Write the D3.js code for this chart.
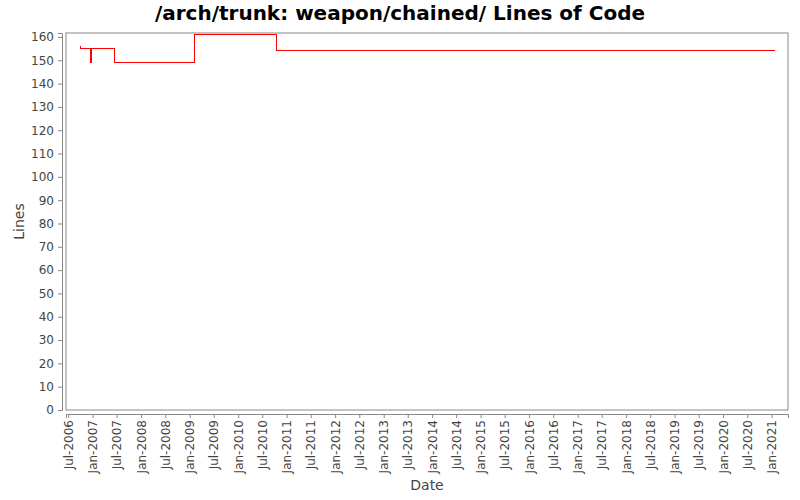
<!DOCTYPE html>
<html>
<head>
<meta charset="utf-8">
<script src="https://d3js.org/d3.v7.min.js"></script>
<style>
  body { margin: 0; background: #fff; }
  text { font-family: "DejaVu Sans", sans-serif; }
</style>
</head>
<body>
<div id="chart"></div>
<script>
// commit dates and line counts (step series)
const dates = ["2006-09-29", "2006-10-03", "2006-12-16", "2006-12-23", "2007-06-12", "2009-02-04", "2010-10-15", "2021-01-24"];
const lines = [156, 155, 149, 155, 149, 161, 154, 154];
const yTicks = d3.range(0, 161, 10);
const xTickLabels = [];
for (let yr = 2006; yr <= 2021; yr++) {
  if (yr > 2006) xTickLabels.push("Jan-" + yr);
  if (yr < 2021) xTickLabels.push("Jul-" + yr);
}

const parse = d3.timeParse("%Y-%m-%d");
const parseTick = d3.timeParse("%b-%Y");
const data = dates.map((d, i) => ({ date: parse(d), value: lines[i] }));

const width = 800, height = 500;
const plot = { left: 66, right: 788, top: 33, bottom: 410 };

const svg = d3.select("#chart").append("svg")
  .attr("width", width).attr("height", height);

const x = d3.scaleTime()
  .domain([parse("2006-06-14"), parse("2021-05-04")])
  .range([plot.left, plot.right]);

const y = d3.scaleLinear()
  .domain([0, 161.7])
  .range([plot.bottom, plot.top]);

// title
svg.append("text")
  .attr("x", width / 2).attr("y", 20)
  .attr("text-anchor", "middle")
  .style("font-size", "20px").style("font-weight", "bold")
  .text("/arch/trunk: weapon/chained/ Lines of Code");

// plot area border
svg.append("rect")
  .attr("x", plot.left).attr("y", plot.top)
  .attr("width", plot.right - plot.left).attr("height", plot.bottom - plot.top)
  .attr("fill", "#fff").attr("stroke", "#888").attr("stroke-width", 1);

// y axis
const yAxis = svg.append("g")
  .attr("transform", `translate(${plot.left - 4},0)`)
  .call(d3.axisLeft(y).tickValues(yTicks).tickSize(4).tickPadding(4));
yAxis.select(".domain").attr("stroke", "#888");
yAxis.selectAll(".tick line").attr("stroke", "#888");
yAxis.selectAll(".tick text").attr("fill", "#444").style("font-size", "12px");

// x axis
const xAxis = svg.append("g")
  .attr("transform", `translate(0,${plot.bottom + 4})`)
  .call(d3.axisBottom(x)
    .tickValues(xTickLabels.map(parseTick))
    .tickFormat(d3.timeFormat("%b-%Y"))
    .tickSize(4));
xAxis.select(".domain").attr("stroke", "#888");
xAxis.selectAll(".tick line").attr("stroke", "#888");
xAxis.selectAll(".tick text")
  .attr("fill", "#444").style("font-size", "12px")
  .attr("text-anchor", "end")
  .attr("transform", "rotate(-90)")
  .attr("x", -6).attr("y", 0).attr("dy", "0.35em");

// axis labels
svg.append("text")
  .attr("x", (plot.left + plot.right) / 2).attr("y", 490)
  .attr("text-anchor", "middle").attr("fill", "#444")
  .style("font-size", "14px")
  .text("Date");

svg.append("text")
  .attr("transform", `translate(24,${(plot.top + plot.bottom) / 2}) rotate(-90)`)
  .attr("text-anchor", "middle").attr("fill", "#444")
  .style("font-size", "14px")
  .text("Lines");

// the line
const line = d3.line()
  .x(d => x(d.date))
  .y(d => y(d.value))
  .curve(d3.curveStepAfter);

svg.append("path")
  .datum(data)
  .attr("fill", "none")
  .attr("stroke", "#ff0000")
  .attr("stroke-width", 1)
  .attr("shape-rendering", "crispEdges")
  .attr("d", line);
</script>
</body>
</html>
